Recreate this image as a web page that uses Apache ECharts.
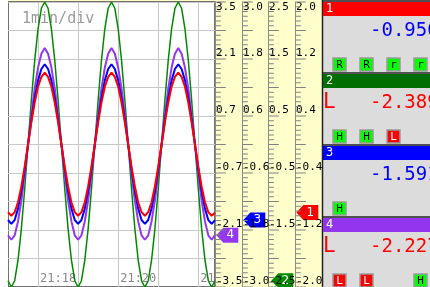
<!DOCTYPE html>
<html>
<head>
<meta charset="utf-8">
<script src="https://cdn.jsdelivr.net/npm/echarts@6/dist/echarts.min.js"></script>
<style>
  html, body { margin: 0; padding: 0; background: #fff; }
  #main { width: 430px; height: 287px; }
</style>
</head>
<body>
<div id="main"></div>
<script>
// samples every 5 s, 21:17:15 .. 21:22:25
var startSec = 21 * 3600 + 17 * 60 + 15;
var stepSec = 5;

var ch1 = [-0.95, -1.0, -0.95, -0.81, -0.59, -0.31, 0.0, 0.31, 0.59, 0.81, 0.95, 1.01, 0.95, 0.81, 0.59, 0.31, 0.0, -0.31, -0.59, -0.81, -0.95,
  -1.0, -0.95, -0.81, -0.59, -0.31, 0.0, 0.31, 0.59, 0.81, 0.95, 1.01, 0.95, 0.81, 0.59, 0.31, 0.0, -0.31, -0.59, -0.81, -0.95,
  -1.0, -0.95, -0.81, -0.59, -0.31, 0.0, 0.31, 0.59, 0.81, 0.95, 1.01, 0.95, 0.81, 0.59, 0.31, 0.0, -0.31, -0.59, -0.81, -0.95,
  -1.0, -0.956];
var ch2 = [-2.39, -2.5, -2.39, -2.03, -1.48, -0.78, 0.0, 0.78, 1.48, 2.03, 2.39, 2.5, 2.39, 2.03, 1.48, 0.78, 0.0, -0.78, -1.48, -2.03, -2.39,
  -2.5, -2.39, -2.03, -1.48, -0.78, 0.0, 0.78, 1.48, 2.03, 2.39, 2.5, 2.39, 2.03, 1.48, 0.78, 0.0, -0.78, -1.48, -2.03, -2.39,
  -2.5, -2.39, -2.03, -1.48, -0.78, 0.0, 0.78, 1.48, 2.03, 2.39, 2.5, 2.39, 2.03, 1.48, 0.78, 0.0, -0.78, -1.48, -2.03, -2.39,
  -2.5, -2.389];
var ch3 = [-1.59, -1.67, -1.59, -1.35, -0.98, -0.52, 0.0, 0.52, 0.98, 1.35, 1.59, 1.69, 1.59, 1.35, 0.98, 0.52, 0.0, -0.52, -0.98, -1.35, -1.59,
  -1.67, -1.59, -1.35, -0.98, -0.52, 0.0, 0.52, 0.98, 1.35, 1.59, 1.69, 1.59, 1.35, 0.98, 0.52, 0.0, -0.52, -0.98, -1.35, -1.59,
  -1.67, -1.59, -1.35, -0.98, -0.52, 0.0, 0.52, 0.98, 1.35, 1.59, 1.69, 1.59, 1.35, 0.98, 0.52, 0.0, -0.52, -0.98, -1.35, -1.59,
  -1.67, -1.591];
var ch4 = [-2.23, -2.34, -2.23, -1.89, -1.38, -0.72, 0.0, 0.72, 1.38, 1.89, 2.23, 2.37, 2.23, 1.89, 1.38, 0.72, 0.0, -0.72, -1.38, -1.89, -2.23,
  -2.34, -2.23, -1.89, -1.38, -0.72, 0.0, 0.72, 1.38, 1.89, 2.23, 2.37, 2.23, 1.89, 1.38, 0.72, 0.0, -0.72, -1.38, -1.89, -2.23,
  -2.34, -2.23, -1.89, -1.38, -0.72, 0.0, 0.72, 1.38, 1.89, 2.23, 2.37, 2.23, 1.89, 1.38, 0.72, 0.0, -0.72, -1.38, -1.89, -2.23,
  -2.34, -2.227];

// scale columns: col1 ch4, col2 ch3, col3 ch2, col4 ch1
var scaleMax = [3.5, 3.0, 2.5, 2.0];
var scaleOffset = [0, 27, 53, 80];
var rulerSteps = 60; // 6 ruler ticks per grid division

// right-hand channel panel
var chNames = ['1', '2', '3', '4'];
var chColors = ['#ff0000', '#006e00', '#0000ff', '#9435ee'];
var chValues = ['-0.956', '-2.389', '-1.591', '-2.227'];
var chLimit = ['', 'L', '', 'L'];
var chAlarmText = [['R', 'R', 'r', 'r'], ['H', 'H', 'L', ''], ['H', '', '', ''], ['L', 'L', '', 'H']];
var chAlarmOn = [[0, 0, 0, 0], [0, 0, 1, 0], [0, 0, 0, 0], [1, 1, 0, 0]];

var cats = [];
for (var i = 0; i < ch1.length; i++) {
  var s = startSec + i * stepSec;
  var hh = Math.floor(s / 3600), mm = Math.floor(s / 60) % 60, ss = s % 60;
  cats.push(hh + ':' + (mm < 10 ? '0' : '') + mm + ':' + (ss < 10 ? '0' : '') + ss);
}
var lastCat = cats[cats.length - 1];

var mono = 'DejaVu Sans Mono';
var gridLeft = 8, gridRight = 215;
var plotRight = 430 - gridRight;
var chart = echarts.init(document.getElementById('main'));

function isMinute(idx, v) { return v.slice(-3) === ':00'; }

var yAxes = scaleMax.map(function(mx, k) {
  var iv = mx / 5;
  return {
    type: 'value', position: 'right', offset: scaleOffset[k],
    min: -mx, max: mx, interval: iv, z: 10,
    axisLine: { show: true, lineStyle: { color: '#8c8c8c', width: 1 } },
    axisTick: { show: false },
    splitLine: { show: k === 0, lineStyle: { color: '#c8c8c8', width: 1 } },
    axisLabel: {
      show: true, margin: 1, color: '#000', fontFamily: mono, fontSize: 11,
      verticalAlign: 'bottom', verticalAlignMaxLabel: 'top',
      formatter: function(v) {
        var n = Math.round((v + mx) / iv);
        return n % 2 === 0 ? v.toFixed(1) : '';
      }
    }
  };
});

// ruler ticks: thin rect symbols at the last time, shifted into their column
function rulerSeries(k) {
  var mx = scaleMax[k];
  var pts = [];
  for (var j = 0; j <= rulerSteps; j++) {
    var len = (j % 6 === 0) ? 10 : 5;
    pts.push({
      value: [lastCat, -mx + j * 2 * mx / rulerSteps],
      symbolSize: [len, 1],
      symbolOffset: [plotRight + scaleOffset[k] - 214.7 + len / 2 + 0.5, 0]
    });
  }
  return {
    type: 'scatter', yAxisIndex: k, data: pts, symbol: 'rect', z: 11, silent: true, clip: false,
    itemStyle: { color: '#808080', opacity: 1 }, emphasis: { disabled: true }
  };
}

function markerFor(val, colX, label, color) {
  return {
    symbol: 'path://M0,7L7,0L22,0L22,14L7,14Z',
    symbolSize: [22, 15],
    symbolKeepAspect: false,
    silent: true,
    itemStyle: { color: color },
    label: { show: true, color: '#fff', fontSize: 12, fontFamily: 'DejaVu Sans', offset: [3, 0], formatter: label },
    data: [{ coord: [lastCat, val], symbolOffset: [colX + 11 - 214.7, 0] }]
  };
}

var panel = [];
panel.push({ type: 'rect', shape: { x: 0, y: 0, width: gridLeft, height: 287 }, style: { fill: '#fff' }, z: 0 });
panel.push({ type: 'rect', shape: { x: 322, y: 0, width: 108, height: 287 }, style: { fill: '#dcdcdc' }, z: 20 });
panel.push({ type: 'line', shape: { x1: 322.5, y1: 0, x2: 322.5, y2: 287 }, style: { stroke: '#222', lineWidth: 1.5 }, z: 21 });
for (var c = 0; c < 4; c++) {
  var secTop = 1 + c * 72;
  panel.push({ type: 'line', shape: { x1: 322, y1: secTop, x2: 430, y2: secTop }, style: { stroke: '#222', lineWidth: 1.5 }, z: 21 });
  panel.push({ type: 'rect', shape: { x: 323, y: secTop + 1, width: 107, height: 14 }, style: { fill: chColors[c] }, z: 21 });
  panel.push({ type: 'text', x: 326, y: secTop + 8, style: { text: chNames[c], fill: '#fff', font: '12px ' + mono, verticalAlign: 'middle' }, z: 22 });
  var vcol = chLimit[c] ? '#ff0000' : '#0000ff';
  if (chLimit[c]) {
    panel.push({ type: 'text', x: 323, y: secTop + 30, style: { text: chLimit[c], fill: '#ff0000', font: '21px ' + mono, verticalAlign: 'middle' }, z: 22 });
  }
  panel.push({ type: 'text', x: 370, y: secTop + 30, style: { text: chValues[c], fill: vcol, font: '19px ' + mono, verticalAlign: 'middle' }, z: 22 });
  for (var a = 0; a < 4; a++) {
    var t = chAlarmText[c][a];
    if (!t) continue;
    var on = chAlarmOn[c][a];
    var bx = 333 + a * 27;
    panel.push({ type: 'rect', shape: { x: bx, y: secTop + 57, width: 13, height: 13 }, style: { fill: on ? '#ff0000' : '#00ff00', stroke: '#9a9a9a', lineWidth: 1.5 }, z: 22 });
    panel.push({ type: 'text', x: bx + 6.5, y: secTop + 64, style: { text: t, fill: on ? '#fff' : '#000', font: '11px ' + mono, align: 'center', verticalAlign: 'middle' }, z: 23 });
  }
}
panel.push({ type: 'text', x: 22, y: 19, style: { text: '1min/div', fill: '#9a9a9a', font: '15px ' + mono, verticalAlign: 'middle' }, z: 3 });

var option = {
  animation: false,
  backgroundColor: '#ffffcc',
  grid: { left: gridLeft, right: gridRight, top: 2, bottom: 0, show: true, borderColor: '#444', borderWidth: 1.5, backgroundColor: '#fff' },
  xAxis: {
    type: 'category', data: cats, boundaryGap: false, z: 1,
    axisLine: { show: false }, axisTick: { show: false },
    splitLine: { show: true, interval: isMinute, lineStyle: { color: '#c8c8c8', width: 1 } },
    axisLabel: {
      inside: true, margin: 2, color: '#888', fontFamily: mono, fontSize: 12,
      align: 'left', verticalAlign: 'bottom', padding: [0, 0, 0, 2],
      interval: function(idx, v) { return isMinute(idx, v) && parseInt(v.slice(3, 5), 10) % 2 === 0; },
      // the last time label runs into the scale and is cut there
      formatter: function(v) { return v.slice(3, 5) === '22' ? v.slice(0, 2) : v.slice(0, 5); }
    }
  },
  yAxis: yAxes,
  graphic: { elements: panel },
  series: [
    rulerSeries(0), rulerSeries(1), rulerSeries(2), rulerSeries(3),
    { name: '2', type: 'line', yAxisIndex: 2, data: ch2, showSymbol: false, z: 12,
      itemStyle: { color: '#008a00' }, lineStyle: { color: '#008a00', width: 1.5 }, markPoint: markerFor(ch2[ch2.length - 1], 271, '2', '#008a00') },
    { name: '4', type: 'line', yAxisIndex: 0, data: ch4, showSymbol: false, z: 12,
      itemStyle: { color: '#9438f0' }, lineStyle: { color: '#9438f0', width: 2 }, markPoint: markerFor(ch4[ch4.length - 1], 216, '4', '#9438f0') },
    { name: '3', type: 'line', yAxisIndex: 1, data: ch3, showSymbol: false, z: 12,
      itemStyle: { color: '#0000ff' }, lineStyle: { color: '#0000ff', width: 2 }, markPoint: markerFor(ch3[ch3.length - 1], 243, '3', '#0000ff') },
    { name: '1', type: 'line', yAxisIndex: 3, data: ch1, showSymbol: false, z: 12,
      itemStyle: { color: '#ff0000' }, lineStyle: { color: '#ff0000', width: 2 }, markPoint: markerFor(ch1[ch1.length - 1], 296, '1', '#ff0000') }
  ]
};
chart.setOption(option);
</script>
</body>
</html>
